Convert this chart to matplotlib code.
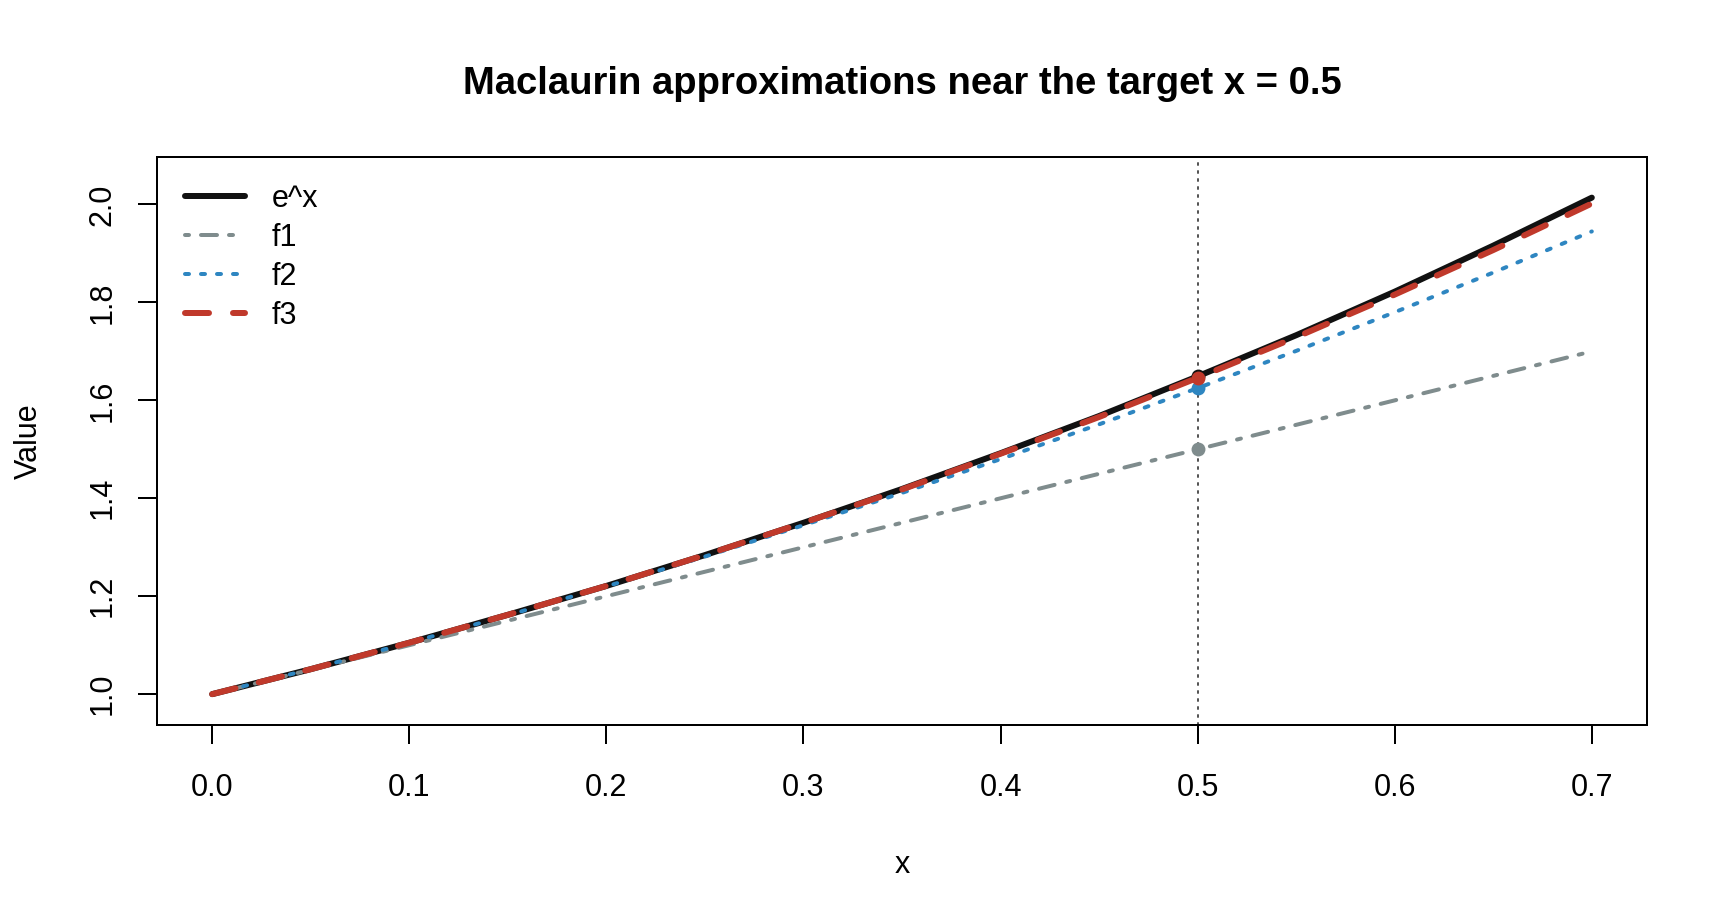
import matplotlib
matplotlib.use('Agg')
import matplotlib.pyplot as plt

x_vals = [0.0, 0.05, 0.1, 0.15, 0.2, 0.25, 0.3, 0.35, 0.4, 0.45, 0.5, 0.55, 0.6, 0.65, 0.7]
exp_vals = [1.000, 1.051, 1.105, 1.162, 1.221, 1.284, 1.350, 1.419, 1.492, 1.568,
            1.649, 1.733, 1.822, 1.916, 2.014]
f1_vals = [1.00, 1.05, 1.10, 1.15, 1.20, 1.25, 1.30, 1.35, 1.40, 1.45,
           1.50, 1.55, 1.60, 1.65, 1.70]
f2_vals = [1.000, 1.051, 1.105, 1.161, 1.220, 1.281, 1.345, 1.411, 1.480, 1.551,
           1.625, 1.701, 1.780, 1.861, 1.945]
f3_vals = [1.000, 1.051, 1.105, 1.162, 1.221, 1.284, 1.350, 1.418, 1.491, 1.566,
           1.646, 1.729, 1.816, 1.907, 2.002]

target_x = 0.5
target_vals = [1.649, 1.500, 1.625, 1.646]   # e^x, f1, f2, f3 at target

labels = ['e^x', 'f1', 'f2', 'f3']
colors = ['#111111', '#7F8C8D', '#2E86C1', '#C0392B']

plt.rcParams['font.family'] = ['Liberation Sans', 'DejaVu Sans']

W, H = 1728, 921
fig = plt.figure(figsize=(W / 100, H / 100), dpi=100)
L, R, T, B = 157, 1647, 157, 725
ax = fig.add_axes([L / W, (H - B) / H, (R - L) / W, (B - T) / H])

px = 0.72  # points per pixel at dpi 100
series = [exp_vals, f1_vals, f2_vals, f3_vals]
widths = [6 * px, 4 * px, 4 * px, 6 * px]
dashes = [None, (1, 3, 4, 3), (1, 3), (4, 4)]
for vals, lab, col, lw, ds in zip(series, labels, colors, widths, dashes):
    ln, = ax.plot(x_vals, vals, color=col, lw=lw, label=lab,
                  solid_capstyle='round', dash_capstyle='round')
    if ds is not None:
        ln.set_dashes(ds)

ax.axvline(target_x, color='#555555', lw=2 * px, dashes=(1, 3), dash_capstyle='round')

for v, col in zip(target_vals, colors):
    ax.plot([target_x], [v], 'o', color=col, ms=10, mew=0)

ax.set_xlim(-0.028, 0.728)
ax.set_ylim(0.937, 2.097)
ax.set_xticks([0.0, 0.1, 0.2, 0.3, 0.4, 0.5, 0.6, 0.7])
ax.set_xticklabels(['0.0', '0.1', '0.2', '0.3', '0.4', '0.5', '0.6', '0.7'])
ax.set_yticks([1.0, 1.2, 1.4, 1.6, 1.8, 2.0])
ax.set_yticklabels(['1.0', '1.2', '1.4', '1.6', '1.8', '2.0'], rotation=90, va='center')
ax.tick_params(length=19 * px, width=2 * px, labelsize=22)
ax.tick_params(axis='x', pad=21)
ax.tick_params(axis='y', pad=15)
for s in ax.spines.values():
    s.set_linewidth(2 * px)

ax.set_xlabel('x', fontsize=22, labelpad=34)
ax.set_ylabel('Value', fontsize=22, labelpad=31)
fig.text((L + R) / 2 / W, 1 - 84 / H, 'Maclaurin approximations near the target x = 0.5',
         ha='center', va='center', fontsize=27.5, fontweight='bold')

ax.legend(loc='upper left', bbox_to_anchor=((185 - L) / (R - L), 1 - (184 - T) / (B - T)),
          frameon=False, fontsize=22, handlelength=1.96, handletextpad=0.88,
          borderpad=0, borderaxespad=0, labelspacing=0.29)

fig.savefig('out.png', dpi=100)
